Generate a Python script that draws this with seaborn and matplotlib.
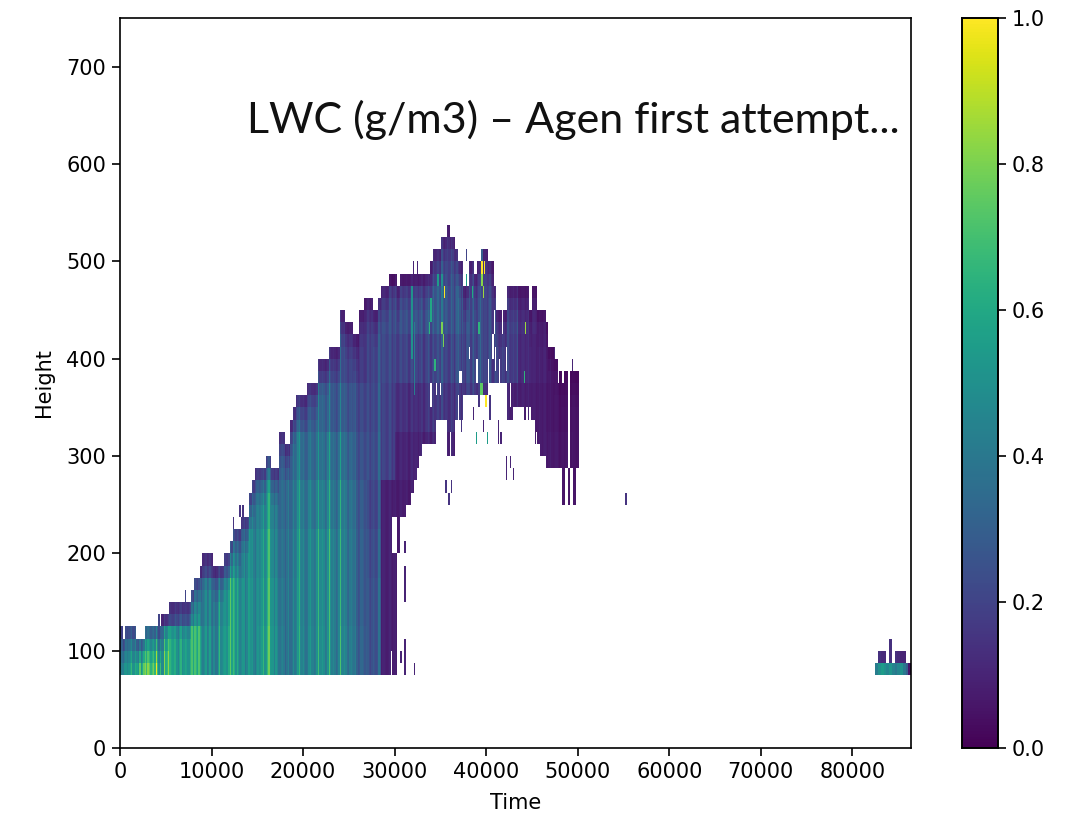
#!/usr/bin/env python3
# LWC time/height curtain, heatmap drawn with seaborn
import numpy as np
import pandas as pd
import matplotlib
matplotlib.use("Agg")
import matplotlib.pyplot as plt
import seaborn as sns

# grid
time_step = 150
height_step = 12.5
x_ticks = [0, 10000, 20000, 30000, 40000, 50000, 60000, 70000, 80000]
y_ticks = [0, 100, 200, 300, 400, 500, 600, 700]
cbar_ticks = [0.0, 0.2, 0.4, 0.6, 0.8, 1.0]

# upper edge of the cloud in each 300 s column, from t=0
top_edge = [125, 112.5, 125, 125, 125, 125, 112.5, 112.5, 112.5, 125, 125, 125, 125, 125, 125,
            137.5, 137.5, 137.5, 150, 150, 150, 150, 150, 150, 150, 150, 162.5, 175, 175, 187.5,
            200, 200, 200, 200, 187.5, 187.5, 187.5, 187.5, 200, 200, 212.5, 225, 225, 225,
            237.5, 237.5, 237.5, 262.5, 275, 287.5, 287.5, 287.5, 287.5, 300, 300, 287.5, 287.5, 287.5,
            325, 325, 312.5, 312.5, 337.5, 350, 362.5, 362.5, 362.5, 362.5, 375, 375, 375, 375,
            400, 400, 400, 400, 412.5, 412.5, 412.5, 412.5, 450, 450, 437.5, 437.5, 437.5, 425, 425,
            450, 450, 462.5, 462.5, 462.5, 450, 450, 462.5, 475, 475, 475, 487.5, 487.5, 487.5,
            475, 487.5, 487.5, 487.5, 487.5, 487.5, 487.5, 487.5, 487.5, 487.5, 487.5, 487.5,
            500, 512.5, 512.5, 512.5, 525, 525, 537.5, 525, 525, 512.5, 500, 500, 475, 475,
            500, 500, 487.5, 500, 500, 512.5, 512.5, 500, 500, 475, 450, 450, 450, 450, 475, 475,
            475, 475, 475, 475, 475, 475, 450, 475, 475, 450, 450, 450, 437.5, 412.5, 412.5,
            400, 400, 387.5, 387.5, 387.5, 375, 387.5, 387.5, 387.5]

# lower edge of the cloud in the same columns
base_edge = [75] * 101 + [200, 237.5, 237.5, 250, 250, 262.5, 275, 287.5, 300,
             312.5, 312.5, 312.5, 312.5, 312.5, 337.5, 337.5, 337.5, 337.5, 300, 300, 300,
             337.5, 337.5, 337.5, 362.5, 362.5, 362.5, 362.5, 362.5, 362.5, 362.5, 362.5, 362.5,
             375, 375, 375, 375, 375, 375, 375, 337.5, 337.5, 350, 350, 350, 350,
             337.5, 337.5, 337.5, 337.5, 312.5, 312.5, 300, 300, 287.5, 287.5, 287.5, 287.5, 287.5,
             287.5, 250, 287.5, 250, 287.5, 250, 287.5]

# LWC, blocks of 1500 s, one list per 50 m band
lwc_75 = [.55, .62, .68, .62, .56, .54, .50, .48, .50, .48, .50, .50, .46, .46, .46, .44, .44, .40, .30, .09,
          .08, .08, .08, .08, .08, .08, .08, .08, .08, .08, .08, .08, .08, .08]
lwc_125 = [.20, .20, .30, .30, .35, .40, .45, .45, .50, .48, .48, .48, .46, .45, .45, .44, .42, .38, .30, .09,
           .08, .08, .08, .08, .08, .08, .08, .08, .08, .08, .08, .08, .08, .08]
lwc_175 = [.20, .20, .20, .20, .25, .25, .30, .35, .42, .46, .46, .45, .45, .45, .45, .44, .42, .38, .28, .09,
           .08, .08, .08, .08, .08, .08, .08, .08, .08, .08, .08, .08, .08, .08]
lwc_225 = [.20, .20, .20, .20, .20, .20, .20, .25, .36, .42, .42, .42, .42, .42, .40, .40, .40, .36, .25, .09,
           .08, .08, .08, .08, .08, .08, .08, .08, .08, .08, .08, .08, .07, .07]
lwc_275 = [.20, .20, .20, .20, .20, .20, .20, .20, .25, .36, .38, .38, .38, .36, .35, .36, .35, .32, .28, .20,
           .10, .10, .10, .10, .10, .10, .10, .10, .09, .09, .08, .08, .07, .06]
lwc_325 = [.20, .20, .20, .20, .20, .20, .20, .20, .20, .20, .30, .32, .32, .30, .30, .28, .28, .28, .26, .20,
           .14, .13, .15, .15, .16, .18, .15, .14, .09, .09, .08, .07, .06, .06]
lwc_375 = [.20, .20, .20, .20, .20, .20, .20, .20, .20, .20, .20, .20, .22, .24, .24, .24, .22, .22, .24, .22,
           .20, .20, .20, .20, .22, .22, .22, .20, .18, .12, .10, .09, .07, .06]
lwc_425 = [.15, .15, .15, .15, .15, .15, .15, .15, .15, .15, .15, .15, .15, .15, .15, .18, .20, .22, .24, .24,
           .24, .26, .26, .26, .26, .24, .22, .22, .20, .14, .12, .10, .09, .07]
lwc_475 = [.10, .10, .10, .10, .10, .10, .10, .10, .10, .10, .10, .10, .10, .10, .10, .10, .10, .10, .10, .10,
           .14, .18, .22, .22, .25, .25, .22, .20, .20, .14, .12, .10, .09, .08]
lwc_525 = [.20, .20, .20, .20, .20, .20, .20, .20, .20, .20, .20, .20, .20, .20, .20, .20, .20, .20, .20, .20,
           .20, .20, .20, .20, .20, .20, .20, .20, .20, .20, .20, .20, .20, .20]
band_tables = [lwc_75, lwc_125, lwc_175, lwc_225, lwc_275, lwc_325, lwc_375, lwc_425, lwc_475, lwc_525]

# how bright each 300 s column stripe looks against its block
stripe = [.85, .95, .90, 1.0, 1.05, .90, 1.0, 1.15, 1.25, 1.2, 1.15, 1.0, 1.05, 1.2, .85,
          .75, 1.15, 1.2, 1.0, .95, 1.0, .9, 1.0, 1.0, .95, 1.05, 1.2, 1.25, 1.2, 1.0,
          .9, .95, 1.0, .8, .85, .95, 1.15, 1.05, 1.1, 1.15, 1.3, 1.3, 1.1, .95, 1.0,
          .95, 1.05, 1.1, 1.0, .9, 1.0, 1.05, 1.15, 1.2, 1.3, 1.05, .95, .85, .8, .85,
          .75, .85, .8, .95, 1.05, 1.2, 1.0, .85, .95, 1.05, .9, 1.0, 1.25, 1.1, .95,
          1.05, 1.35, 1.0, .85, .95, 1.3, 1.05, .9, .85, .95, 1.0, .7, .75, .8, .7, .85,
          .75, .9, .8, 1.1, .95, 1.0, .9, 1.05, .85, 1.0, .9, 1.05, .95, 1.1, .85, 1.05,
          1.0, .9, 1.1, .85, 1.0, 1.2, .9, 1.1, 1.15, .95, 1.3, 1.0, .9, 1.05, .85, 1.1,
          1.2, .9, .8, 1.15, .95, 1.2, .85, 1.0, 1.25, .9, .85, 1.1, .8, 1.05, .95, .8,
          1.0, .85, 1.1, .9, 1.0, 1.15, .85, 1.0, .9, 1.05, .85, 1.0, .9, .95, .85, 1.0,
          .8, .95, .75, .85, .8, .7, .75, .8, .75, .8, .85, .75]

# contrast between the two halves of a 300 s column (first half times, second half over)
stripe_split = [1.1, .9, 1.05, .95, 1.15, .9, 1.05, 1.2, .9, 1.1,
                1.05, .95, 1.1, 1.2, .85, 1.0, 1.15, .9, 1.05, .95,
                1.1, .9, 1.15, .95, 1.05, .9, 1.1, 1.05, .9, 1.1,
                .95, 1.15, .9, 1.05, 1.1, .85, 1.2, .95, 1.05, .9,
                1.15, 1.05, .9, 1.1, .95, 1.15, .9, 1.05, 1.1, .9,
                1.05, .95, 1.15, .9, 1.2, 1.0, .9, 1.1, .95, 1.05,
                .9, 1.15, .95, 1.1, .9, 1.2, .95, 1.05, .9, 1.1,
                1.05, .9, 1.2, .95, 1.1, .9, 1.2, .95, 1.1, .9,
                1.25, .95, 1.1, .9, 1.05, .95, 1.1, .9, 1.05, .95,
                1.1, .9, 1.05, .95, 1.15, .9, 1.05, .95, 1.1, .9,
                1.15, .9, 1.1, .95, 1.05, .9, 1.15, .95, 1.1, .9,
                1.2, .95, 1.1, .85, 1.15, .9, 1.05, 1.2, .9, 1.1,
                .85, 1.2, .9, 1.15, .85, 1.1, .95, 1.2, .9, 1.1,
                .85, 1.2, .95, 1.1, .9, 1.15, .85, 1.1, .95, 1.05,
                .9, 1.15, .95, 1.1, .85, 1.05, .95, 1.1, .9, 1.05,
                .95, 1.1, .9, 1.05, .95, 1.1, .9, 1.05, .95, 1.1,
                .9, 1.05, .95, 1.1, .9, 1.05, .95]

# the top rows of a column read paler
top_fade = [0.45, 0.7, 0.88]

# single thin streaks and spikes above/below the cloud
streak_time = [35427, 39505, 39760, 39505, 39650, 39905, 39320, 39500, 39215, 38960, 40125, 34410,
               34045, 33790, 31860, 32220, 34770, 35135, 35135, 35300, 44310, 44130, 37940, 38485,
               39500, 31970, 32405, 37940, 35865, 36230, 35680, 42240, 42960, 42710, 41580, 41250,
               39690, 38590, 39250, 40415, 37210, 49410, 47515, 30690, 31120, 32100, 31120, 31120,
               55200, 12380, 7100, 4260, 13180, 13470]
streak_low = [462.5, 487.5, 487.5, 475, 462.5, 350, 362.5, 362.5, 425, 312.5, 312.5, 387.5,
              437.5, 425, 400, 362.5, 475, 475, 425, 412.5, 425, 375, 475, 462.5,
              500, 487.5, 487.5, 500, 250, 262.5, 262.5, 275, 275, 287.5, 312.5, 312.5,
              325, 337.5, 350, 337.5, 325, 387.5, 400, 87.5, 75, 75, 150, 200,
              250, 225, 150, 125, 237.5, 237.5]
streak_high = [475, 500, 500, 487.5, 475, 362.5, 375, 375, 437.5, 325, 325, 400,
               462.5, 437.5, 475, 437.5, 487.5, 487.5, 437.5, 425, 437.5, 387.5, 487.5, 475,
               512.5, 500, 500, 512.5, 262.5, 275, 275, 300, 287.5, 300, 325, 337.5,
               337.5, 350, 362.5, 362.5, 337.5, 400, 412.5, 100, 112.5, 87.5, 187.5, 212.5,
               262.5, 237.5, 162.5, 137.5, 250, 250]
streak_value = [1.0, 1.0, 1.0, .82, .85, 1.0, .75, .75, .65, .55, .55, .65,
                .6, .65, .5, .42, .55, .5, .8, .8, .85, .65, .55, .6,
                .3, .1, .1, .2, .15, .15, .15, .1, .1, .1, .1, .1,
                .1, .1, .15, .15, .15, .1, .1, .1, .1, .1, .1, .1,
                .15, .15, .2, .2, .15, .15]

# white gaps inside the cloud
hole_time = [29700, 29850, 30000, 30150, 29600, 33900, 34600, 34950, 37050, 37200, 38200, 38850, 39000,
             40960, 41500, 40900, 41800, 42170, 44420, 44780, 43870, 43600, 45150, 45510,
             47990, 48430, 48950, 49100, 48240, 36000, 36900, 40200, 40650, 42700]
hole_low = [200, 200, 200, 200, 75, 350, 362.5, 362.5, 375, 375, 400, 375, 375,
            387.5, 375, 425, 425, 387.5, 337.5, 337.5, 337.5, 337.5, 312.5, 312.5,
            375, 375, 287.5, 287.5, 250, 300, 337.5, 375, 400, 350]
hole_high = [237.5, 237.5, 237.5, 237.5, 100, 375, 375, 375, 387.5, 387.5, 412.5, 400, 400,
             412.5, 400, 450, 450, 412.5, 350, 350, 350, 350, 337.5, 325,
             400, 387.5, 387.5, 387.5, 287.5, 325, 362.5, 400, 425, 375]

# little patch at the end of the day, columns from 82500 s
end_start = 82500
end_top = [87.5, 100, 100, 100, 87.5, 112.5, 87.5, 100, 100, 100, 100, 87.5, 87.5]
end_base_lwc = [.42, .50, .55, .50, .46, .52, .44, .40, .46, .50, .40, .30, .06]
end_upper_lwc = [.14, .14, .12, .12, .12, .14, .12, .14, .12, .10, .10, .10, .10]

times = np.arange(0, 86400, time_step)
heights = np.arange(0, 750, height_step)
lwc = np.full((len(heights), len(times)), np.nan)

for i, (top, base) in enumerate(zip(top_edge, base_edge)):
    col = i * 300 // time_step
    block = min(i // 5, 33)
    n_rows = int((top - base) / height_step)
    for k in range(n_rows):
        h = base + k * height_step
        band = min(int((h - 75) // 50), len(band_tables) - 1)
        value = band_tables[band][block] * stripe[i]
        from_top = n_rows - 1 - k
        if from_top < len(top_fade):
            value *= top_fade[from_top]
        r = int(h / height_step)
        lwc[r, col] = min(value * stripe_split[i], 1.0)
        lwc[r, col + 1] = min(value / stripe_split[i], 1.0)

for i, top in enumerate(end_top):
    col = (end_start + i * 300) // time_step
    lwc[6, col:col + 2] = end_base_lwc[i]
    for r in range(7, int(top / height_step)):
        lwc[r, col:col + 2] = end_upper_lwc[i]

for t, low, high, val in zip(streak_time, streak_low, streak_high, streak_value):
    lwc[int(low / height_step):int(high / height_step), t // time_step] = val

for t, low, high in zip(hole_time, hole_low, hole_high):
    lwc[int(low / height_step):int(high / height_step), t // time_step] = np.nan

df = pd.DataFrame(lwc, index=heights, columns=times)

fig = plt.figure(figsize=(10.86, 8.14), dpi=100)
ax = fig.add_axes([120 / 1086, 66 / 814, 791 / 1086, 730 / 814])
cax = fig.add_axes([962 / 1086, 66 / 814, 36 / 1086, 730 / 814])

sns.heatmap(df, ax=ax, cbar_ax=cax, cmap="viridis", vmin=0, vmax=1,
            xticklabels=False, yticklabels=False)

ax.set_ylim(0, len(heights))
ax.set_xlim(0, len(times))
ax.set_xticks(np.array(x_ticks) / time_step)
ax.set_xticklabels(x_ticks, rotation=0)
ax.set_yticks(np.array(y_ticks) / height_step)
ax.set_yticklabels(y_ticks, rotation=0)
ax.tick_params(labelsize=15, length=6, width=1.2, pad=4)
ax.set_xlabel("Time", fontsize=15, labelpad=8)
ax.set_ylabel("Height", fontsize=15, labelpad=9)
for s in ax.spines.values():
    s.set_visible(True)
    s.set_linewidth(1.2)
    s.set_color("black")

cax.set_yticks(cbar_ticks)
cax.set_yticklabels(["0.0", "0.2", "0.4", "0.6", "0.8", "1.0"])
cax.tick_params(labelsize=15, length=6, width=1.2, pad=4)
for s in cax.spines.values():
    s.set_visible(True)
    s.set_linewidth(1.2)
    s.set_color("black")

# pasted caption sitting on top of the plot
fig.text(247 / 1086, 1 - 120 / 814, "LWC (g/m3) \u2013 Agen first attempt...",
         fontsize=31, family="Lato", va="center", ha="left", color="#111111")

fig.savefig("out.png", dpi=100)
